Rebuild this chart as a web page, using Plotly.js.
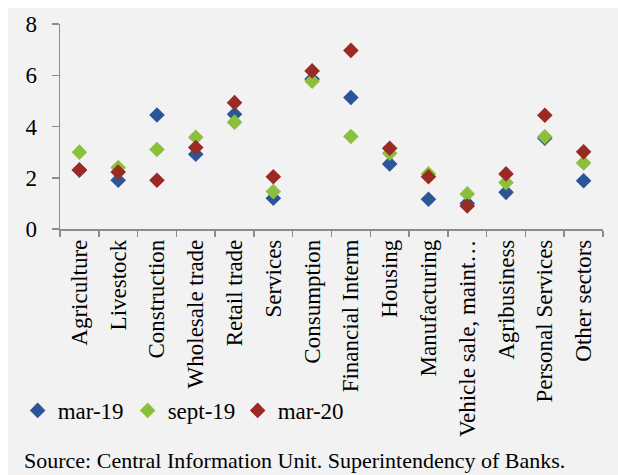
<!DOCTYPE html>
<html>
<head>
<meta charset="utf-8">
<script src="https://cdn.plot.ly/plotly-3.0.1.min.js"></script>
<style>
  html, body { margin: 0; padding: 0; background: #ffffff; width: 618px; height: 475px; overflow: hidden; }
  #chart { position: absolute; left: 8px; top: 8px; width: 610px; height: 467px; }
</style>
</head>
<body>
<div id="chart"></div>
<script>
const categories = ["Agriculture", "Livestock", "Construction", "Wholesale trade", "Retail trade", "Services", "Consumption", "Financial Interm", "Housing", "Manufacturing", "Vehicle sale, maint\u2026", "Agribusiness", "Personal Services", "Other sectors"];
const mar19  = [2.3, 1.9, 4.45, 2.92, 4.48, 1.2, 5.85, 5.13, 2.54, 1.16, 1.0, 1.43, 3.54, 1.88];
const sept19 = [3.0, 2.4, 3.1, 3.58, 4.17, 1.46, 5.77, 3.61, 2.96, 2.15, 1.37, 1.81, 3.6, 2.58];
const mar20  = [2.3, 2.22, 1.9, 3.18, 4.93, 2.04, 6.17, 6.97, 3.15, 2.04, 0.9, 2.15, 4.44, 3.01];
const seriesNames = ["mar-19", "sept-19", "mar-20"];
const colors = ["#2C5597", "#8CC03C", "#9A2A23"];

const FONT = "Liberation Serif, Times New Roman, serif";
const traces = [mar19, sept19, mar20].map((vals, i) => ({
  type: "scatter",
  mode: "markers",
  name: seriesNames[i],
  x: categories,
  y: vals,
  marker: { symbol: "diamond", size: 12, color: colors[i] },
  hoverinfo: "x+y+name"
}));

const layout = {
  width: 610,
  height: 467,
  paper_bgcolor: "#F2F2F2",
  plot_bgcolor: "#F2F2F2",
  margin: { l: 52, r: 15, t: 16, b: 246, autoexpand: false },
  font: { family: FONT, size: 23, color: "#000000" },
  showlegend: true,
  legend: {
    orientation: "h",
    x: -0.078, xanchor: "left",
    y: -0.885, yanchor: "middle",
    bgcolor: "rgba(0,0,0,0)",
    entrywidth: 65, entrywidthmode: "pixels",
    font: { family: FONT, size: 23, color: "#000000" },
    itemclick: false
  },
  xaxis: {
    type: "category",
    range: [-0.5, 13.5],
    showline: true, linecolor: "#8C8C8C", linewidth: 1.5,
    ticks: "outside", tickson: "boundaries", ticklen: 6, tickcolor: "#8C8C8C", tickwidth: 1.5,
    tickangle: -90,
    tickfont: { family: FONT, size: 23, color: "#000000" },
    showgrid: false, zeroline: false, fixedrange: true
  },
  yaxis: {
    range: [0, 8],
    tickmode: "array",
    tickvals: [0, 2, 4, 6, 8],
    ticktext: ["0", "2", "4", "6", "8"],
    showline: true, linecolor: "#8C8C8C", linewidth: 1.5,
    ticks: "outside", ticklen: 7, tickcolor: "#8C8C8C", tickwidth: 1.5,
    ticklabelstandoff: 10,
    tickfont: { family: FONT, size: 23, color: "#000000" },
    showgrid: false, zeroline: false, fixedrange: true
  },
  annotations: [{
    text: "Source: Central Information Unit. Superintendency of Banks.",
    xref: "paper", yref: "paper",
    x: -0.07, xanchor: "left",
    y: -1.13, yanchor: "middle",
    showarrow: false,
    font: { family: FONT, size: 22, color: "#000000" }
  }]
};

Plotly.newPlot("chart", traces, layout, { displayModeBar: false, staticPlot: true });
</script>
</body>
</html>
